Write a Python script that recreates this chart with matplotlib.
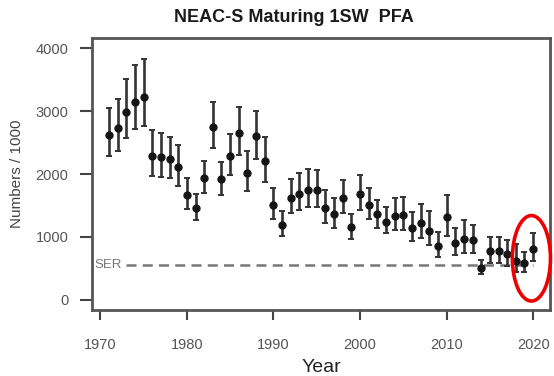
import matplotlib
matplotlib.use("Agg")
import matplotlib.pyplot as plt
from matplotlib.patches import Ellipse

# Pre-fishery abundance (thousands) with 90% interval bounds
years = list(range(1971, 2021))
pfa = [2615, 2732, 2995, 3154, 3233, 2282, 2277, 2241, 2114, 1675,
       1453, 1934, 2753, 1924, 2282, 2647, 2024, 2599, 2203, 1506,
       1195, 1617, 1680, 1754, 1743, 1453, 1358, 1623, 1163, 1686,
       1501, 1358, 1236, 1331, 1342, 1147, 1226, 1094, 856, 1315,
       899, 973, 951, 498, 777, 777, 724, 618, 582, 815]
upper = [3049, 3196, 3513, 3735, 3830, 2705, 2653, 2590, 2468, 1940,
         1686, 2214, 3154, 2193, 2637, 3065, 2372, 3011, 2590, 1781,
         1410, 1924, 2019, 2087, 2060, 1743, 1612, 1902, 1358, 1992,
         1781, 1585, 1474, 1612, 1632, 1401, 1517, 1410, 1078, 1675,
         1147, 1263, 1184, 634, 998, 998, 946, 883, 761, 1057]
lower = [2282, 2361, 2574, 2721, 2758, 1965, 1950, 1940, 1818, 1448,
         1268, 1702, 2415, 1675, 1981, 2309, 1738, 2240, 1870, 1290,
         1014, 1385, 1422, 1480, 1480, 1215, 1147, 1385, 973, 1422,
         1279, 1147, 1057, 1109, 1109, 935, 978, 872, 688, 1014,
         713, 740, 745, 418, 582, 592, 539, 444, 444, 618]

ser_value = 550
ser_years = [1973, 2020]
x_ticks = [1970, 1980, 1990, 2000, 2010, 2020]
y_ticks = [0, 1000, 2000, 3000, 4000]

# highlight ring around the latest estimates (year, value, width in years, height)
ring_center = (2019.8, 660)
ring_size = (4.4, 1360)

plt.rcParams["font.family"] = ["Liberation Sans", "DejaVu Sans"]

fig = plt.figure(figsize=(5.54, 3.76), dpi=100)
ax = fig.add_axes([0.166, 0.176, 0.827, 0.722])

err_lo = [p - l for p, l in zip(pfa, lower)]
err_hi = [u - p for u, p in zip(upper, pfa)]
ax.errorbar(years, pfa, yerr=[err_lo, err_hi], fmt="o", color="#151515",
            ecolor="#333333", elinewidth=1.9, capsize=2.5, capthick=1.4,
            markersize=5, zorder=3)

ax.plot(ser_years, [ser_value, ser_value], linestyle=(0, (4, 2.5)),
        color="#777777", linewidth=1.8, zorder=2)
ax.text(1969.3, ser_value, "SER", ha="left", va="center",
        fontsize=9.5, color="#777777")

ax.add_patch(Ellipse(ring_center, ring_size[0], ring_size[1], fill=False,
                     edgecolor="#ee0000", linewidth=2.6, clip_on=False,
                     zorder=4))

ax.set_xlim(1969.04, 2021.96)
ax.set_ylim(-160, 4160)
ax.set_xticks(x_ticks)
ax.set_yticks(y_ticks)
ax.tick_params(axis="x", length=7, width=1.5, color="#444444", pad=13,
               labelsize=10.5, labelcolor="#555555")
ax.tick_params(axis="y", length=9, width=1.5, color="#444444", pad=8,
               labelsize=10.5, labelcolor="#555555")
for s in ax.spines.values():
    s.set_color("#555555")
    s.set_linewidth(2.0)

ax.set_title("NEAC-S Maturing 1SW  PFA", fontsize=13, fontweight="bold",
             color="#1a1a1a", pad=12, x=0.441)
ax.set_xlabel("Year", fontsize=14, color="#222222", labelpad=5)
ax.set_ylabel("Numbers / 1000", fontsize=11, color="#444444", labelpad=8)

fig.savefig("out.png", dpi=100)
